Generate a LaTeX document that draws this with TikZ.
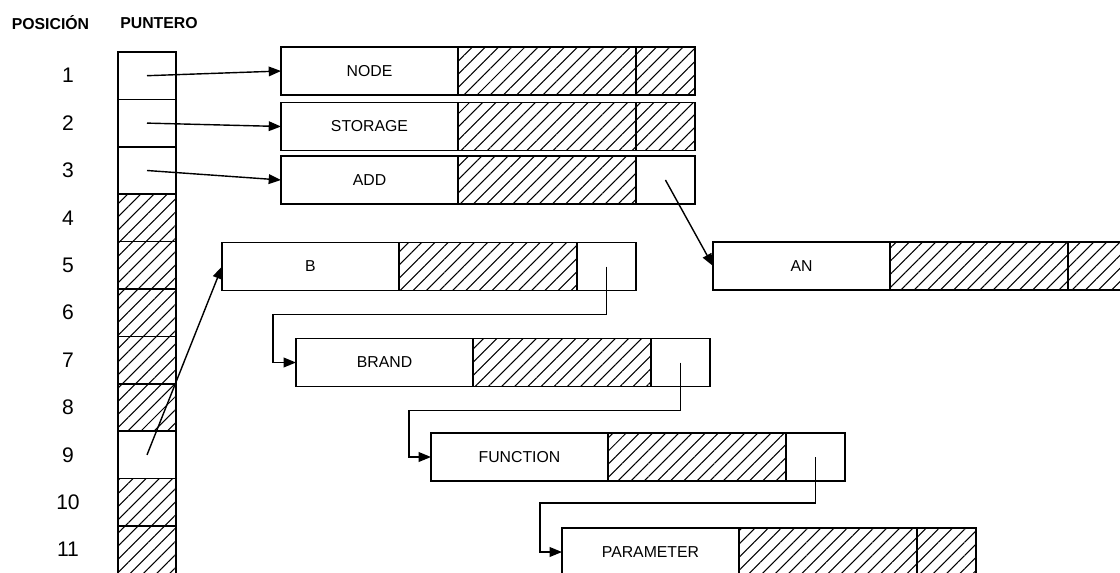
\documentclass[tikz,border=0pt]{standalone}
\usepackage{fontspec}
\setmainfont{Liberation Sans}
\usetikzlibrary{positioning, calc, arrows.meta, patterns.meta}

\tikzset{
  campo/.style={draw, rectangle, line width=0.9pt, minimum height=0.96cm, inner sep=0pt, outer sep=0pt, font=\fontsize{9}{10}\selectfont},
  texto/.style={campo, minimum width=3.54cm},
  rayado/.style={campo, minimum width=3.56cm, rayas},
  enlace/.style={campo, minimum width=1.18cm},
  rayas/.style={pattern={Lines[angle=45, distance=5.3pt, line width=0.6pt]}},
  celda/.style={draw, rectangle, line width=0.9pt, minimum width=1.16cm, minimum height=0.948cm, inner sep=0pt, outer sep=0pt},
  numero/.style={font=\fontsize{12}{14}\selectfont},
  titulo/.style={font=\bfseries\fontsize{9}{10}\selectfont},
  flecha/.style={-{Triangle[length=7pt, width=5.5pt]}, line width=0.8pt}
}

\begin{document}
\begin{tikzpicture}[x=0.02cm, y=-0.02cm]
\clip (0,0) rectangle (1120,572);
\node[titulo] (tpos) at (50.5,23) {POSICIÓN};
\node[titulo] (tpun) at (159,23) {PUNTERO};
\foreach \i in {1,2,3,9} \node[celda] (p\i) at (147, {52+47.4*(\i-1)+23.7}) {};
\foreach \i in {4,5,6,7,8,10,11} \node[celda, rayas] (p\i) at (147, {52+47.4*(\i-1)+23.7}) {};
\foreach \i in {1,...,11} \node[numero] (n\i) at (68, {52+47.4*(\i-1)+23.7}) {\i};

\node[texto] (node-t) at (369.5,71) {NODE};
\node[rayado, right=0pt of node-t] (node-h) {};
\node[enlace, rayas, right=0pt of node-h] (node-p) {};
\node[texto] (storage-t) at (369.5,126.5) {STORAGE};
\node[rayado, right=0pt of storage-t] (storage-h) {};
\node[enlace, rayas, right=0pt of storage-h] (storage-p) {};
\node[texto] (add-t) at (369.5,180) {ADD};
\node[rayado, right=0pt of add-t] (add-h) {};
\node[enlace, right=0pt of add-h] (add-p) {};
\node[texto] (b-t) at (310.5,266.5) {B};
\node[rayado, right=0pt of b-t] (b-h) {};
\node[enlace, right=0pt of b-h] (b-p) {};
\node[texto] (an-t) at (801.5,266) {AN};
\node[rayado, right=0pt of an-t] (an-h) {};
\node[enlace, rayas, right=0pt of an-h] (an-p) {};
\node[texto] (brand-t) at (384.5,362.5) {BRAND};
\node[rayado, right=0pt of brand-t] (brand-h) {};
\node[enlace, right=0pt of brand-h] (brand-p) {};
\node[texto] (function-t) at (519.5,457) {FUNCTION};
\node[rayado, right=0pt of function-t] (function-h) {};
\node[enlace, right=0pt of function-h] (function-p) {};
\node[texto] (parameter-t) at (650.5,552) {PARAMETER};
\node[rayado, right=0pt of parameter-t] (parameter-h) {};
\node[enlace, rayas, right=0pt of parameter-h] (parameter-p) {};

\draw[flecha] (p1.center) -- (node-t.west);
\draw[flecha] (p2.center) -- (storage-t.west);
\draw[flecha] (p3.center) -- (add-t.west);
\draw[flecha] (p9.center) -- (b-t.west);
\draw[flecha] (add-p.center) -- (an-t.west);
\draw[flecha] (b-p.center) -- ($(b-p.south)+(0,24)$) -| ($(brand-t.west)+(-23,0)$) -- (brand-t.west);
\draw[flecha] (brand-p.center) -- ($(brand-p.south)+(0,24)$) -| ($(function-t.west)+(-22,0)$) -- (function-t.west);
\draw[flecha] (function-p.center) -- ($(function-p.south)+(0,22)$) -| ($(parameter-t.west)+(-22,0)$) -- (parameter-t.west);
\end{tikzpicture}
\end{document}
